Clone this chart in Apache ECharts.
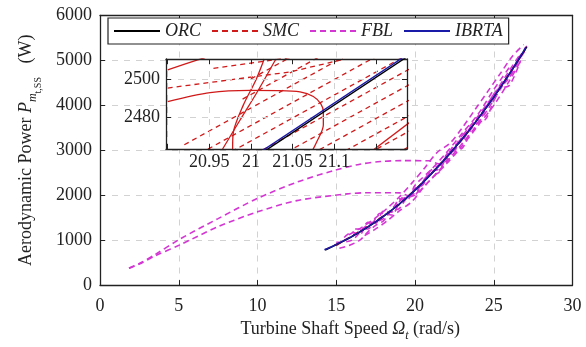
<!DOCTYPE html>
<html><head><meta charset="utf-8">
<script src="https://cdn.jsdelivr.net/npm/echarts@6/dist/echarts.min.js"></script>
<style>html,body{margin:0;padding:0;background:#fff}#c{width:586px;height:347px}</style>
</head><body><div id="c"></div>
<script>
// ---------- DATA ----------
const insetXLabels = ['20.95', '21', '21.05', '21.1'];
const insetYLabels = ['2480', '2500'];

// ORC / IBRTA steady trajectories (Omega rad/s, P W)
const orcMain = [[14.3,780],[15,900],[16,1080],[17,1290],[18,1530],[19,1800],[20,2110],[21,2460],[22,2840],[23,3250],[24,3700],[25,4180],[26,4700],[27.1,5300]];
const ibrtaMain = [[14.25,785],[15,905],[16,1085],[17,1295],[18,1535],[19,1805],[20,2115],[21,2465],[22,2845],[23,3255],[24,3705],[25,4185],[26,4705],[27.05,5295]];

// SMC traces (main view, mostly hidden below FBL)
const smcMainA = [[14.3,790],[16,1090],[18,1540],[20,2120],[21,2465],[22,2850],[24,3710],[26,4710],[27.1,5300]];
const smcMainB = [[15,880],[17,1320],[19,1790],[21,2480],[23,3240],[25,4200],[27,5240]];

// FBL traces
const fblUpper = [[1.84,375],[2.5,480],[3.5,680],[5.1,1030],[7.5,1480],[10,1930],[12.5,2290],[14.8,2545],[16.5,2690],[17.8,2750],[19.2,2770],[20.9,2766],[21.5,2700],[22,2860],[22.5,3120],[23,3200],[23.5,3500],[24,3620],[24.5,3980],[25,4110],[25.5,4480],[26,4630],[26.5,5000],[27.1,5320]];
const fblLower = [[1.84,375],[2.5,470],[3.5,650],[5.1,900],[7.5,1300],[10,1630],[12.5,1880],[15.7,2030],[17,2055],[19.05,2053],[19.6,1990],[20,2150],[20.5,2230],[21,2520],[21.5,2580],[22,2900],[22.5,2990],[23,3310],[24,3760],[25,4240],[26,4780],[26.7,5150]];
const fblBandA = [[15.5,1060],[16,1180],[16.5,1120],[17,1400],[17.5,1380],[18,1650],[18.5,1620],[19,1920],[19.5,1900],[20,2220],[21,2560],[22,2950],[23,3380],[24,3800],[25,4350],[26,4850]];
const fblBandB = [[15.2,820],[15.8,880],[16.5,1000],[17,1180],[17.5,1330],[18,1430],[18.5,1650],[19,1700],[19.5,1950],[20,2000],[21,2350],[22,2700],[23,3100],[24,3550],[25,4000],[26,4550],[26.8,5050]];
const fblBandC = [[15,950],[16,1000],[17,1350],[18,1480],[19,1880],[20,2050],[21,2550],[22,2780],[23,3330],[24,3620],[25,4250],[26,4620],[27,5280]];
const fblBandD = [[16.2,1250],[17,1250],[17.8,1600],[18.5,1560],[19.2,1950],[20,2000],[20.8,2450],[21.5,2500],[22.2,3000],[23,3050],[23.7,3560],[24.5,3700],[25.3,4350],[26,4450],[26.7,5000]];
const fblBandE = [[16.8,1100],[17.5,1250],[18.2,1420],[19,1650],[19.8,1860],[20.6,2200],[21.4,2500],[22.2,2820],[23,3150],[23.8,3500],[24.6,3900],[25.4,4350],[26.2,4800],[27,5220]];
const fblBandF = [[15.8,1120],[16.6,1280],[17.4,1470],[18.2,1700],[19,1960],[19.8,2270],[20.6,2600],[21.4,2950],[22.2,3150],[23,3500],[23.8,3900],[24.6,4300],[25.4,4700],[26.2,5100],[26.9,5350]];

// Inset (zoom around Omega = 21 rad/s, P = 2490 W)
const orcZoom = [[21.0,2458],[21.2,2515]];
const ibrtaZoom = [[21.0,2459],[21.2,2516]];
const smcZoomLoop = [[20.9,2488.3],[20.951,2492.9],[20.999,2494.1],[21.032,2494.0],[21.059,2493.3],[21.075,2490.9],[21.084,2487.1],[21.087,2482.9],[21.087,2476.2],[21.079,2467.4],[21.071,2460.7]];
const smcZoomSteepA = [[20.966,2463.8],[20.987,2478.8],[21.009,2494.3],[21.03,2510.3]];
const smcZoomSteepB = [[20.978,2463.8],[20.979,2472.6],[20.991,2486.6],[21.006,2499.5],[21.016,2510.3]];
const smcZoomCorner = [[20.9,2504.7],[20.936,2509.8],[20.945,2511]];
const smcZoomLow = [[21.14,2461],[21.195,2479]];
const smcZoomTopA = [[20.9,2495.3],[21.047,2503.6],[21.113,2510.3]];
const smcZoomTopB = [[20.955,2505.5],[21.047,2511]];
const smcZoomDash1 = [[21.0,2500],[21.19,2545]];
const smcZoomDash2 = [[20.99,2489.6],[21.19,2537]];
const smcZoomDash3 = [[20.92,2466],[21.19,2530]];
const smcZoomDash4 = [[20.92,2457],[21.19,2521]];
const smcZoomDash5 = [[20.92,2449],[21.19,2513]];
const smcZoomDash6 = [[20.92,2441],[21.19,2505]];
const smcZoomDash7 = [[20.92,2433],[21.19,2497]];
const smcZoomDash8 = [[20.95,2432],[21.19,2489]];
const smcZoomDash9 = [[21.0,2436],[21.19,2481]];
const smcZoomDash10 = [[21.0,2428],[21.19,2473]];
const smcZoomDash11 = [[21.05,2432],[21.19,2465]];

// ---------- CHART ----------
const serif = 'Liberation Serif';
const C_ORC = '#000000', C_SMC = '#d01a1a', C_FBL = '#d436d4', C_IBR = '#1a1aa8';
const AX = '#222';
const chart = echarts.init(document.getElementById('c'), null, {renderer: 'canvas'});

const tickIn = {show: true, inside: true, length: 5, lineStyle: {color: AX, width: 1}};
const axLine = {show: true, onZero: false, lineStyle: {color: AX, width: 1.3}};
const gridLine = {show: true, lineStyle: {color: '#d2d2d2', width: 1, type: [6, 6]}};
const tickRich = {t: {fontFamily: serif, fontSize: 18, color: AX}};
function lbl(extra) {
  return Object.assign({fontFamily: serif, fontSize: 18, color: AX, rich: tickRich}, extra);
}
const subRich = {
  it: {fontFamily: serif, fontSize: 18, fontStyle: 'italic', color: AX},
  sub: {fontFamily: serif, fontSize: 12, fontStyle: 'italic', color: AX, padding: [14, 0, 0, 0]},
  ssub: {fontFamily: serif, fontSize: 10, color: AX, padding: [24, 0, 0, 0]}
};

function lineSeries(name, data, color, type, width, xi, yi, z, smooth) {
  return {
    name: name, type: 'line', data: data, xAxisIndex: xi, yAxisIndex: yi,
    showSymbol: false, symbol: 'none', smooth: smooth || false, z: z,
    lineStyle: {color: color, width: width, type: type}, itemStyle: {color: color},
    emphasis: {disabled: true}, silent: true
  };
}

const dash = [6, 4];
const zDash = [5, 4];
const series = [
  lineSeries('SMC', smcMainA, C_SMC, dash, 1.4, 0, 0, 2, 0.3),
  lineSeries('SMC', smcMainB, C_SMC, dash, 1.4, 0, 0, 2, 0.3)
];
[fblUpper, fblLower, fblBandA, fblBandB, fblBandC, fblBandD, fblBandE, fblBandF].forEach(d =>
  series.push(lineSeries('FBL', d, C_FBL, dash, 1.6, 0, 0, 3, 0.3)));
series.push(lineSeries('ORC', orcMain, C_ORC, 'solid', 1.4, 0, 0, 4, 0.3));
series.push(lineSeries('IBRTA', ibrtaMain, C_IBR, 'solid', 1.6, 0, 0, 5, 0.3));

const zoomDashed = [smcZoomTopA, smcZoomTopB, smcZoomDash1, smcZoomDash2, smcZoomDash3, smcZoomDash4, smcZoomDash5, smcZoomDash6, smcZoomDash7, smcZoomDash8, smcZoomDash9, smcZoomDash10, smcZoomDash11];
const zoomSolid = [smcZoomLoop, smcZoomSteepA, smcZoomSteepB, smcZoomCorner, smcZoomLow];
zoomDashed.forEach(d => series.push(lineSeries('smc-zoom', d, C_SMC, zDash, 1.3, 2, 2, 11, false)));
zoomSolid.forEach(d => series.push(lineSeries('smc-zoom', d, C_SMC, 'solid', 1.3, 2, 2, 11, 0.3)));
series.push(lineSeries('orc-zoom', orcZoom, C_ORC, 'solid', 1.4, 2, 2, 12, false));
series.push(lineSeries('ibrta-zoom', ibrtaZoom, C_IBR, 'solid', 1.4, 2, 2, 13, false));

function insetFmt(list) {
  return function (v) {
    for (const s of list) { if (Math.abs(v - parseFloat(s)) < 1e-6) return '{t|' + s + '}'; }
    return '';
  };
}
const plainFmt = v => '{t|' + Math.round(v) + '}';

const option = {
  animation: false,
  backgroundColor: '#fff',
  textStyle: {fontFamily: serif},
  grid: [
    {left: 100, top: 15.5, width: 472.5, height: 271.5, containLabel: false},
    {left: 166, top: 59, width: 241, height: 90, show: true, backgroundColor: '#fff', borderWidth: 0, z: 10}
  ],
  legend: {
    data: ['ORC', 'SMC', 'FBL', 'IBRTA'], left: 108, top: 18, itemWidth: 46, itemHeight: 12, itemGap: 10,
    padding: [4, 6, 4, 5], borderColor: AX, borderWidth: 1.2, backgroundColor: '#fff', z: 20,
    itemStyle: {opacity: 0, borderWidth: 0},
    textStyle: {fontFamily: serif, fontStyle: 'italic', fontSize: 18, color: AX}
  },
  xAxis: [
    {type: 'value', gridIndex: 0, min: 0, max: 30, interval: 5, axisLine: axLine, axisTick: tickIn,
     axisLabel: lbl({margin: 12, formatter: plainFmt}), splitLine: gridLine,
     name: 'Turbine Shaft Speed {it|Ω}{sub|t} (rad/s)', nameLocation: 'middle', nameGap: 29,
     nameTextStyle: {fontFamily: serif, fontSize: 18, color: AX, padding: [0, 0, 0, 28], rich: subRich}},
    {type: 'value', gridIndex: 0, position: 'top', min: 0, max: 30, interval: 5, axisLine: axLine, axisTick: tickIn,
     axisLabel: {show: false}, splitLine: {show: false}},
    {type: 'value', gridIndex: 1, min: 20.898, max: 21.1875, splitNumber: 5, axisLine: axLine, axisTick: tickIn, z: 12,
     axisLabel: lbl({margin: 4, formatter: insetFmt(insetXLabels), showMinLabel: true, showMaxLabel: true}),
     splitLine: gridLine},
    {type: 'value', gridIndex: 1, position: 'top', min: 20.898, max: 21.1875, splitNumber: 5, axisLine: axLine, axisTick: tickIn, z: 12,
     axisLabel: {show: false}, splitLine: {show: false}}
  ],
  yAxis: [
    {type: 'value', gridIndex: 0, min: 0, max: 6000, interval: 1000, axisLine: axLine, axisTick: tickIn,
     axisLabel: lbl({margin: 8, formatter: plainFmt}), splitLine: gridLine,
     name: 'Aerodynamic Power {it|P}{sub|m}{ssub|t,SS}   (W)', nameLocation: 'middle', nameGap: 57, nameRotate: 90,
     nameTextStyle: {fontFamily: serif, fontSize: 18, color: AX, rich: subRich}},
    {type: 'value', gridIndex: 0, position: 'right', min: 0, max: 6000, interval: 1000, axisLine: axLine, axisTick: tickIn,
     axisLabel: {show: false}, splitLine: {show: false}},
    {type: 'value', gridIndex: 1, min: 2463.8, max: 2510.3, splitNumber: 2, axisLine: axLine, axisTick: tickIn, z: 12,
     axisLabel: lbl({margin: 6, formatter: insetFmt(insetYLabels)}), splitLine: gridLine},
    {type: 'value', gridIndex: 1, position: 'right', min: 2463.8, max: 2510.3, splitNumber: 2, axisLine: axLine, axisTick: tickIn, z: 12,
     axisLabel: {show: false}, splitLine: {show: false}}
  ],
  series: series
};
chart.setOption(option);
</script>
</body></html>
